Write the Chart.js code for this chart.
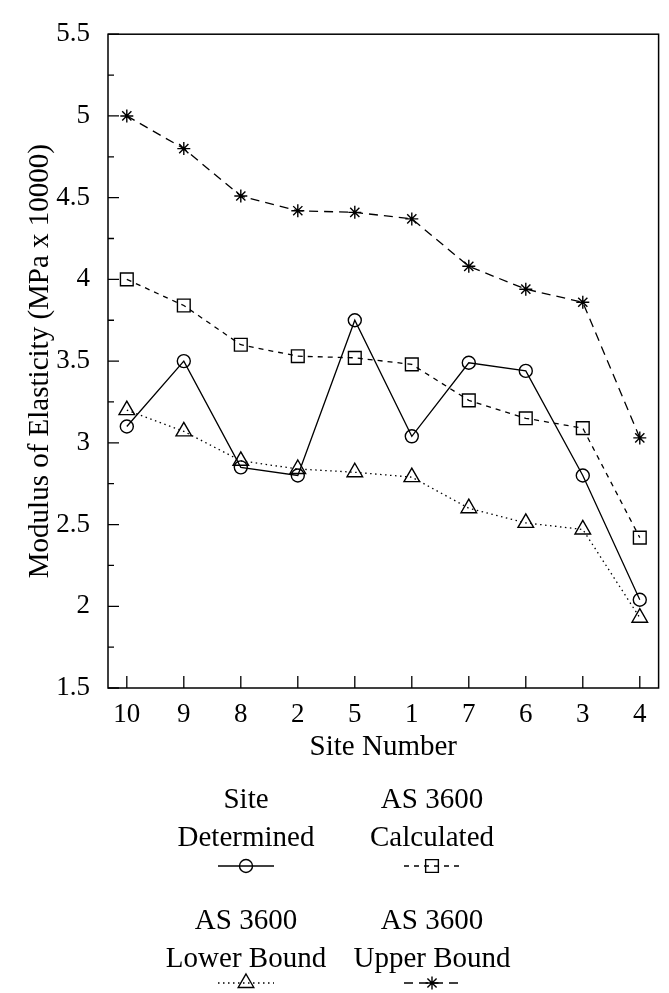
<!DOCTYPE html>
<html>

<head>
  <title>Modulus of Elasticity by Site</title>
  <script src="https://cdn.jsdelivr.net/npm/chart.js"></script>
  <style>
    body { margin: 0; background: #fff; }
  </style>
</head>

<body>
  <canvas id="myChart" width="669" height="993"></canvas>
  <script>
    // site numbers in the order they sit along the x axis
    var sites = ['10', '9', '8', '2', '5', '1', '7', '6', '3', '4'];

    // modulus of elasticity, MPa x 10000
    var siteDetermined = [3.10, 3.50, 2.85, 2.80, 3.75, 3.04, 3.49, 3.44, 2.80, 2.04];
    var as3600Calculated = [4.00, 3.84, 3.60, 3.53, 3.52, 3.48, 3.26, 3.15, 3.09, 2.42];
    var as3600LowerBound = [3.20, 3.07, 2.89, 2.84, 2.82, 2.79, 2.60, 2.51, 2.47, 1.93];
    var as3600UpperBound = [5.00, 4.80, 4.51, 4.42, 4.41, 4.37, 4.08, 3.94, 3.86, 3.03];

    var legendText = [
      ['Site', 'Determined'],
      ['AS 3600', 'Calculated'],
      ['AS 3600', 'Lower Bound'],
      ['AS 3600', 'Upper Bound']
    ];

    var serif = '"Liberation Serif", "Times New Roman", serif';

    function toPoints(values) {
      return values.map(function (v, i) { return { x: i, y: v }; });
    }

    // frame round the plot and gnuplot-style ticks pointing inwards
    var frameTicks = {
      id: 'frameTicks',
      afterDatasetsDraw: function (chart) {
        var ctx = chart.ctx, a = chart.chartArea;
        var xs = chart.scales.x, ys = chart.scales.y;
        ctx.save();
        ctx.strokeStyle = '#000';
        ctx.lineWidth = 1.5;
        ctx.strokeRect(a.left, a.top, a.right - a.left, a.bottom - a.top);
        ctx.lineWidth = 1.3;
        ctx.beginPath();
        ys.ticks.forEach(function (t) {
          var py = ys.getPixelForValue(t.value);
          var len = (t.value * 2) % 1 === 0 ? 11 : 6;
          ctx.moveTo(a.left, py);
          ctx.lineTo(a.left + len, py);
        });
        xs.ticks.forEach(function (t) {
          var px = xs.getPixelForValue(t.value);
          ctx.moveTo(px, a.bottom);
          ctx.lineTo(px, a.bottom - 12);
        });
        ctx.stroke();
        ctx.restore();
      }
    };

    // two by two legend under the axis title
    var gridLegend = {
      id: 'gridLegend',
      afterDraw: function (chart) {
        var ctx = chart.ctx;
        var colX = [246, 432];
        var textY = [800, 921];
        var sampleY = [866, 983];
        ctx.save();
        chart.data.datasets.forEach(function (ds, i) {
          var cx = colX[i % 2], row = Math.floor(i / 2);
          ctx.fillStyle = '#000';
          ctx.font = '29px ' + serif;
          ctx.textAlign = 'center';
          ctx.textBaseline = 'middle';
          ctx.fillText(legendText[i][0], cx, textY[row]);
          ctx.fillText(legendText[i][1], cx, textY[row] + 38);

          var sy = sampleY[row];
          ctx.strokeStyle = '#000';
          ctx.lineWidth = ds.borderWidth;
          ctx.setLineDash(ds.borderDash || []);
          ctx.beginPath();
          ctx.moveTo(cx - 28, sy);
          ctx.lineTo(cx + 28, sy);
          ctx.stroke();
          ctx.setLineDash([]);
          ctx.fillStyle = 'rgba(0,0,0,0)';
          ctx.lineWidth = ds.pointBorderWidth;
          Chart.helpers.drawPoint(ctx, {
            pointStyle: ds.pointStyle,
            radius: ds.pointRadius,
            rotation: 0,
            borderWidth: ds.pointBorderWidth
          }, cx, sy);
        });
        ctx.restore();
      }
    };

    var ctx = document.getElementById('myChart').getContext('2d');
    var chart = new Chart(ctx, {
      type: 'line',
      data: {
        datasets: [
          {
            label: 'Site Determined',
            data: toPoints(siteDetermined),
            borderColor: '#000',
            backgroundColor: 'rgba(0,0,0,0)',
            borderWidth: 1.3,
            pointStyle: 'circle',
            pointRadius: 6.5,
            pointBorderWidth: 1.4
          },
          {
            label: 'AS 3600 Calculated',
            data: toPoints(as3600Calculated),
            borderColor: '#000',
            backgroundColor: 'rgba(0,0,0,0)',
            borderWidth: 1.3,
            borderDash: [5, 5],
            pointStyle: 'rect',
            pointRadius: 9,
            pointBorderWidth: 1.4
          },
          {
            label: 'AS 3600 Lower Bound',
            data: toPoints(as3600LowerBound),
            borderColor: '#000',
            backgroundColor: 'rgba(0,0,0,0)',
            borderWidth: 1.3,
            borderDash: [1.5, 3.5],
            pointStyle: 'triangle',
            pointRadius: 9,
            pointBorderWidth: 1.4
          },
          {
            label: 'AS 3600 Upper Bound',
            data: toPoints(as3600UpperBound),
            borderColor: '#000',
            backgroundColor: 'rgba(0,0,0,0)',
            borderWidth: 1.3,
            borderDash: [9, 6],
            pointStyle: 'star',
            pointRadius: 6.5,
            pointBorderWidth: 1.4
          }
        ]
      },
      options: {
        responsive: false,
        animation: false,
        devicePixelRatio: 1,
        layout: { padding: { left: 0, top: 21, right: 7, bottom: 225 } },
        plugins: {
          legend: { display: false },
          tooltip: { enabled: false }
        },
        scales: {
          x: {
            type: 'linear',
            min: -0.33,
            max: 9.33,
            afterBuildTicks: function (scale) {
              scale.ticks = sites.map(function (s, i) { return { value: i }; });
            },
            afterFit: function (scale) { scale.height = 80; },
            grid: { display: false, drawTicks: false },
            border: { display: false },
            ticks: {
              autoSkip: false,
              maxRotation: 0,
              padding: 11,
              color: '#000',
              font: { family: serif, size: 27 },
              callback: function (v) { return sites[v]; }
            },
            title: {
              display: true,
              text: 'Site Number',
              color: '#000',
              font: { family: serif, size: 29 },
              padding: { top: 0, bottom: 3 }
            }
          },
          y: {
            min: 1.5,
            max: 5.5,
            afterFit: function (scale) { scale.width = 108; },
            grid: { display: false, drawTicks: false },
            border: { display: false },
            ticks: {
              stepSize: 0.25,
              autoSkip: false,
              padding: 18,
              color: '#000',
              font: { family: serif, size: 27 },
              callback: function (v) { return (v * 2) % 1 === 0 ? String(v) : ''; }
            },
            title: {
              display: true,
              text: 'Modulus of Elasticity (MPa x 10000)',
              color: '#000',
              font: { family: serif, size: 29 },
              padding: { top: 23, bottom: 0 }
            }
          }
        }
      },
      plugins: [frameTicks, gridLegend]
    });
  </script>
</body>

</html>
